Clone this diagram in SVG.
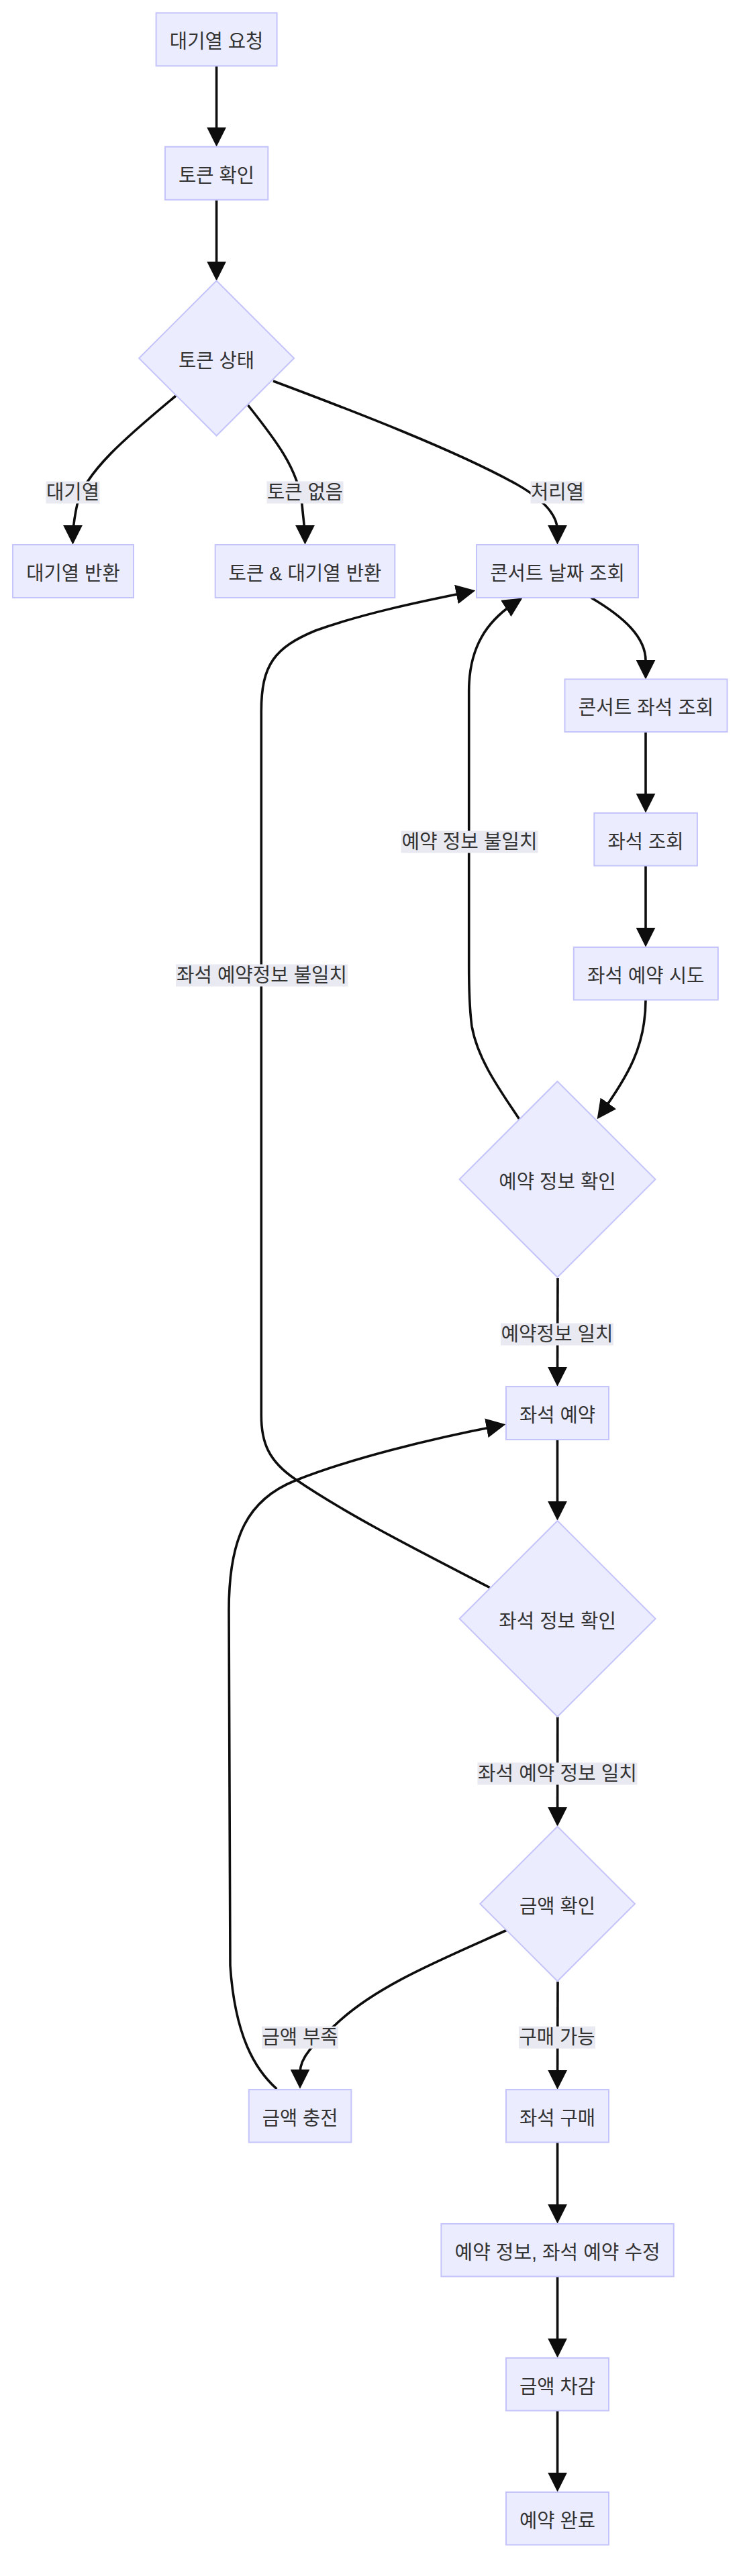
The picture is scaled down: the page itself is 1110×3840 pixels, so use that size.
<svg xmlns="http://www.w3.org/2000/svg" width="1110" height="3840" viewBox="0 0 1110 3840">
<defs>
<style>
.node rect, .node polygon { fill: #ECECFF; stroke: #C4C4FA; stroke-width: 2; }
.node text, .lbl text { font-family: "Liberation Sans", "Noto Sans CJK KR", sans-serif; font-size: 29px; fill: #333333; text-anchor: middle; }
.edges path { fill: none; stroke: #0d0d0d; stroke-width: 3.6; marker-end: url(#arrow); }
.lbl rect { fill: #E9E9F1; }
</style>
<marker id="arrow" viewBox="0 0 10 10" refX="7" refY="5" markerWidth="29" markerHeight="29" markerUnits="userSpaceOnUse" orient="auto">
<path d="M0,0 L10,5 L0,10 z" fill="#0d0d0d"/>
</marker>
</defs>
<rect width="1110" height="3840" fill="#ffffff"/>

<g id="edges" class="edges">
<path d="M322.6,98.5 L322.6,210"/>
<path d="M322.6,298.5 L322.6,410"/>
<path d="M262,590 C190,650 125,705 115,752 C110,775 108.5,790 108.5,803"/>
<path d="M369.5,604 C410,655 445,700 450,752 C452,775 454.5,790 454.5,803"/>
<path d="M407,568 C530,614 680,672 770,722 C805,742 830,765 830.5,790 L830.5,803"/>
<path d="M880.7,891 C930,920 962,950 962,985 L962,1004"/>
<path d="M962,1091 L962,1203"/>
<path d="M962,1290.5 L962,1403"/>
<path d="M962,1490.5 C962,1560 935,1605 894.7,1661.2"/>
<path d="M773.5,1668 C745,1625 712,1580 703,1530 C699,1500 698.7,1470 698.7,1440 L698.7,1030 C698.7,965 725,925 771,896.2"/>
<path d="M831,1905 L830.5,2058"/>
<path d="M830.5,2146.5 L830.5,2258"/>
<path d="M729.6,2366.5 C640,2320 520,2260 440,2205 C400,2178 389.3,2150 389.3,2110 L389.3,1060 C389.3,990 410,965 470,940 C540,915 620,898 699.8,882"/>
<path d="M412.4,3114 C380,3085 350,3035 343,2930 L341,2400 C341,2290 370,2235 440,2207 C520,2175 640,2145 744.8,2125"/>
<path d="M830.8,2559.5 L830.6,2714"/>
<path d="M754.4,2877.5 C660,2920 560,2960 500,3018 C470,3045 447,3065 447,3090 L447,3105"/>
<path d="M831,2954 L830.6,3106"/>
<path d="M830.6,3194 L830.6,3306"/>
<path d="M830.6,3394 L830.6,3506"/>
<path d="M830.6,3594 L830.6,3706"/>
</g>

<g id="edge-labels">
<g class="lbl"><rect x="68.5" y="717.5" width="80" height="33"/><text x="108.5" y="743.7" textLength="79" lengthAdjust="spacingAndGlyphs">대기열</text></g>
<g class="lbl"><rect x="397.5" y="717.5" width="114" height="33"/><text x="454.5" y="743.7" textLength="113" lengthAdjust="spacingAndGlyphs">토큰 없음</text></g>
<g class="lbl"><rect x="790.5" y="717.5" width="80" height="33"/><text x="830.5" y="743.7" textLength="79" lengthAdjust="spacingAndGlyphs">처리열</text></g>
<g class="lbl"><rect x="597.5" y="1238.5" width="204" height="33"/><text x="699.5" y="1264.7" textLength="202" lengthAdjust="spacingAndGlyphs">예약 정보 불일치</text></g>
<g class="lbl"><rect x="262" y="1437.5" width="256" height="33"/><text x="390" y="1463.7" textLength="254" lengthAdjust="spacingAndGlyphs">좌석 예약정보 불일치</text></g>
<g class="lbl"><rect x="746" y="1972.5" width="168" height="33"/><text x="830" y="1998.7" textLength="167" lengthAdjust="spacingAndGlyphs">예약정보 일치</text></g>
<g class="lbl"><rect x="711.4" y="2627.5" width="238" height="33"/><text x="830.4" y="2653.7" textLength="237" lengthAdjust="spacingAndGlyphs">좌석 예약 정보 일치</text></g>
<g class="lbl"><rect x="390" y="3020.7" width="114" height="33"/><text x="447" y="3046.9" textLength="113" lengthAdjust="spacingAndGlyphs">금액 부족</text></g>
<g class="lbl"><rect x="773" y="3020.7" width="114" height="33"/><text x="830" y="3046.9" textLength="113" lengthAdjust="spacingAndGlyphs">구매 가능</text></g>
</g>

<g id="n1" class="node"><rect x="232.6" y="19.3" width="180" height="79"/><text x="322.6" y="72.3" textLength="139.5" lengthAdjust="spacingAndGlyphs">대기열 요청</text></g>
<g id="n2" class="node"><rect x="246" y="218.8" width="153.3" height="79"/><text x="322.6" y="271.8" textLength="113" lengthAdjust="spacingAndGlyphs">토큰 확인</text></g>
<g id="n3" class="node"><polygon points="322.6,418.5 438.1,534 322.6,649.5 207.1,534"/><text x="322.6" y="547.5" textLength="113" lengthAdjust="spacingAndGlyphs">토큰 상태</text></g>
<g id="n4" class="node"><rect x="19" y="812" width="180" height="79"/><text x="109" y="865" textLength="139.5" lengthAdjust="spacingAndGlyphs">대기열 반환</text></g>
<g id="n5" class="node"><rect x="320.7" y="812" width="267.6" height="79"/><text x="454.5" y="865" textLength="228" lengthAdjust="spacingAndGlyphs">토큰 &amp; 대기열 반환</text></g>
<g id="n6" class="node"><rect x="710" y="812" width="241" height="79"/><text x="830.5" y="865" textLength="200.5" lengthAdjust="spacingAndGlyphs">콘서트 날짜 조회</text></g>
<g id="n7" class="node"><rect x="841.5" y="1012.5" width="242" height="78.5"/><text x="962.5" y="1065.3" textLength="201.5" lengthAdjust="spacingAndGlyphs">콘서트 좌석 조회</text></g>
<g id="n8" class="node"><rect x="885.3" y="1212" width="153.6" height="78.5"/><text x="962.1" y="1264.8" textLength="113" lengthAdjust="spacingAndGlyphs">좌석 조회</text></g>
<g id="n9" class="node"><rect x="854.8" y="1412" width="215" height="78.5"/><text x="962.3" y="1464.8" textLength="174.5" lengthAdjust="spacingAndGlyphs">좌석 예약 시도</text></g>
<g id="n10" class="node"><polygon points="830.5,1612 976.5,1758 830.5,1904 684.5,1758"/><text x="830.5" y="1771.5" textLength="174.5" lengthAdjust="spacingAndGlyphs">예약 정보 확인</text></g>
<g id="n11" class="node"><rect x="754" y="2067" width="153" height="79"/><text x="830.5" y="2120" textLength="113" lengthAdjust="spacingAndGlyphs">좌석 예약</text></g>
<g id="n12" class="node"><polygon points="830.6,2267 976.6,2413 830.6,2559 684.6,2413"/><text x="830.6" y="2426.5" textLength="174.5" lengthAdjust="spacingAndGlyphs">좌석 정보 확인</text></g>
<g id="n13" class="node"><polygon points="830.6,2722.7 945.9,2838 830.6,2953.3 715.3,2838"/><text x="830.6" y="2851.5" textLength="113" lengthAdjust="spacingAndGlyphs">금액 확인</text></g>
<g id="n14" class="node"><rect x="370.8" y="3115" width="152.6" height="78.5"/><text x="447.1" y="3167.8" textLength="112.5" lengthAdjust="spacingAndGlyphs">금액 충전</text></g>
<g id="n15" class="node"><rect x="754" y="3115" width="153" height="78.5"/><text x="830.5" y="3167.8" textLength="113" lengthAdjust="spacingAndGlyphs">좌석 구매</text></g>
<g id="n16" class="node"><rect x="657.4" y="3315" width="346.4" height="78.5"/><text x="830.6" y="3367.8" textLength="306" lengthAdjust="spacingAndGlyphs">예약 정보, 좌석 예약 수정</text></g>
<g id="n17" class="node"><rect x="754" y="3515" width="153" height="78.5"/><text x="830.5" y="3567.8" textLength="113" lengthAdjust="spacingAndGlyphs">금액 차감</text></g>
<g id="n18" class="node"><rect x="754" y="3715" width="153" height="78.5"/><text x="830.5" y="3767.8" textLength="113" lengthAdjust="spacingAndGlyphs">예약 완료</text></g>
</svg>
